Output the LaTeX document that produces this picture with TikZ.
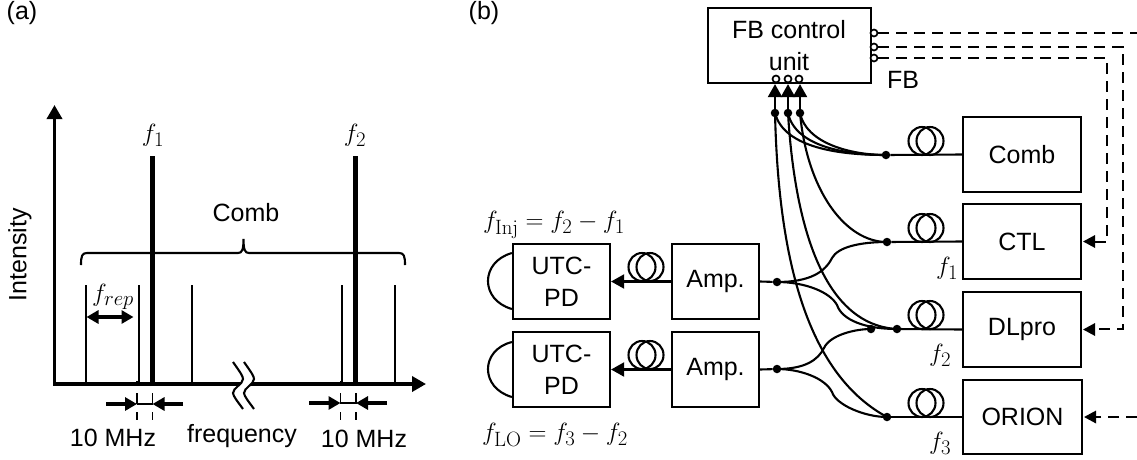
\documentclass[tikz,border=0pt]{standalone}
\usepackage[no-math]{fontspec}
\setmainfont{Liberation Sans}
\usetikzlibrary{arrows.meta,positioning,calc}
\tikzset{
  txt/.style={inner sep=0pt,font=\fontsize{25}{28}\selectfont},
  mth/.style={inner sep=0pt,font=\fontsize{28}{30}\selectfont},
  box/.style={draw,line width=2.2pt,inner sep=0pt,font=\fontsize{25}{28}\selectfont,align=center},
  dotn/.style={circle,fill=black,inner sep=0pt,minimum size=8.5pt},
  port/.style={circle,draw,fill=white,line width=1.7pt,inner sep=0pt,minimum size=7pt},
  wire/.style={line width=2.1pt},
  fb/.style={line width=2.1pt,dash pattern=on 11pt off 7pt},
  tipA/.style={-{Triangle[length=13pt,width=14pt]}},
  axisline/.style={line width=3.6pt,-{Triangle[length=14pt,width=15pt]}},
  dbl/.style={line width=3.2pt,{Triangle[length=12pt,width=13pt]}-{Triangle[length=12pt,width=13pt]}},
  inarrow/.style={line width=3.2pt,-{Triangle[length=12pt,width=13pt]}},
  thinline/.style={line width=2.1pt},
  thick line/.style={line width=5pt},
  guide/.style={line width=1.7pt,dash pattern=on 11pt off 8pt,dash phase=7pt},
  loopc/.style={line width=2.1pt}
}
\newcommand{\fiberloop}[2]{%
  \draw[loopc] (#1-4,#2-14) ellipse [x radius=13.5,y radius=14];
  \draw[loopc] (#1+4,#2-14) ellipse [x radius=13.5,y radius=14];}
\begin{document}
\begin{tikzpicture}[x=1pt,y=-1pt]
\useasboundingbox (0,0) rectangle (1137,459);
% panel labels
\node[txt] (la) at (22,13) {(a)};
\node[txt] (lb) at (484,13) {(b)};
% ---- panel a
\coordinate (o) at (54.5,384);
\coordinate (ytop) at (54.5,105);
\coordinate (xend) at (426,384);
\foreach \n/\x in {s1/86,s2/139,s3/192,s4/342,s5/395}{
  \coordinate (\n b) at (\x,384); \coordinate (\n t) at (\x,285);
  \draw[thinline] (\n b) -- (\n t);}
\foreach \n/\x in {k1/152.7,k2/355}{
  \coordinate (\n b) at (\x,386); \coordinate (\n t) at (\x,156);
  \draw[thick line] (\n b) -- (\n t);}
\draw[axisline] (o) -- (xend);
\draw[axisline] ($(o)+(0,1.7)$) -- (ytop);
% break
\fill[white] (233,362) .. controls (240,372) and (243,376) .. (243,379) .. controls (243,384) and (233,388) .. (233,393) .. controls (233,396) and (238,402) .. (243,409) -- (254,409)
  .. controls (249,402) and (244,396) .. (244,393) .. controls (244,388) and (254,384) .. (254,379) .. controls (254,376) and (251,372) .. (244,362) -- cycle;
\draw[wire] (233,362) .. controls (240,372) and (243,376) .. (243,379) .. controls (243,384) and (233,388) .. (233,393) .. controls (233,396) and (238,402) .. (243,409);
\draw[wire] (244,362) .. controls (251,372) and (254,376) .. (254,379) .. controls (254,384) and (244,388) .. (244,393) .. controls (244,396) and (249,402) .. (254,409);
% brace
\coordinate (brL) at (81,265); \coordinate (brR) at (405,265); \coordinate (brT) at (243.5,239);
\draw[wire] (brL) .. controls (81,256) and (82,253) .. (87,253) -- (238,253)
  .. controls (242,253) and (243.5,250) .. (brT)
  .. controls (243.5,250) and (245,253) .. (249,253) -- (399,253)
  .. controls (404,253) and (405,256) .. (brR);
\node[txt] (comblab) at (246,213) {Comb};
\node[mth] (f1top) at (153,135) {$f_1$};
\node[mth] (f2top) at (355,135) {$f_2$};
\node[txt,rotate=90] (int) at (20,255) {Intensity};
\node[mth] (frep) at (113,297) {$f_{rep}$};
\coordinate (ra) at (86.5,317); \coordinate (rb) at (133.5,317);
\draw[dbl] (ra) -- (rb);
% 10 MHz markers
\foreach \n/\x in {g1/137,g2/152.5,g3/340.5,g4/356}{
  \coordinate (\n t) at (\x,381); \coordinate (\n b) at (\x,420);
  \draw[guide] (\n t) -- (\n b);}
\coordinate (m1a) at (106,404); \coordinate (m1b) at (137,404);
\coordinate (m1c) at (183,404); \coordinate (m1d) at (152.5,404);
\coordinate (m2a) at (309,403); \coordinate (m2b) at (340.5,403);
\coordinate (m2c) at (387,403); \coordinate (m2d) at (356,403);
\draw[thinline] (m1b) -- (m1d);
\draw[thinline] (m2b) -- (m2d);
\draw[inarrow] (m1a) -- (m1b);
\draw[inarrow] (m1c) -- (m1d);
\draw[inarrow] (m2a) -- (m2b);
\draw[inarrow] (m2c) -- (m2d);
\node[txt] (mhz1) at (113,438) {10 MHz};
\node[txt] (freq) at (242,436) {frequency};
\node[txt] (mhz2) at (364,439) {10 MHz};
% ---- panel b boxes
\node[box,minimum width=163pt,minimum height=75pt] (fbu) at (789.5,45.5) {};
\node[txt] (fbt1) at (789,30) {FB control};
\node[txt] (fbt2) at (789,62) {unit};
\node[box,minimum width=118pt,minimum height=75pt] (comb) at (1022,154.5) {Comb};
\node[box,minimum width=118pt,minimum height=75pt] (ctl) at (1022,241.5) {CTL};
\node[box,minimum width=118pt,minimum height=75pt] (dlp) at (1022,329.5) {DLpro};
\node[box,minimum width=119pt,minimum height=74pt] (ori) at (1022.5,417) {ORION};
\node[box,minimum width=97pt,minimum height=75pt] (u1) at (561.5,281.5) {UTC-\\[4pt]PD};
\node[box,minimum width=97pt,minimum height=75pt] (u2) at (561.5,369.5) {UTC-\\[4pt]PD};
\node[box,minimum width=87pt,minimum height=75pt] (a1) at (715.5,281.5) {Amp.};
\node[box,minimum width=87pt,minimum height=75pt] (a2) at (715.5,369.5) {Amp.};
% ports
\node[port] (pr1) at (874,33) {};
\node[port] (pr2) at (874,47) {};
\node[port] (pr3) at (874,58) {};
\node[port] (pb1) at (776,79) {};
\node[port] (pb2) at (788,79) {};
\node[port] (pb3) at (799,79) {};
% dots
\node[dotn] (d1) at (775,113) {};
\node[dotn] (d2) at (788,113) {};
\node[dotn] (d3) at (800,113) {};
\node[dotn] (dc) at (886,155) {};
\node[dotn] (dt) at (887,242) {};
\node[dotn] (dd) at (897,329) {};
\node[dotn] (de) at (871,329) {};
\node[dotn] (dr) at (887,417) {};
\node[dotn] (da1) at (777,282) {};
\node[dotn] (da2) at (777,369) {};
% straight wires
\draw[wire] (dc) -- (comb.west);
\draw[wire] (dt) -- (ctl.west);
\draw[wire] (dd.center) -- (dlp.west);
\draw[wire] (dr) -- (ori.west);
\draw[wire] (a1.east) -- (da1);
\draw[wire] (a2.east) -- (da2);
\draw[wire,tipA] (a1.west) -- (u1.east);
\draw[wire,tipA] (a2.west) -- (u2.east);
\draw[wire,tipA] (d1.center) -- (d1.center |- fbu.south);
\draw[wire,tipA] (d2.center) -- (d2.center |- fbu.south);
\draw[wire,tipA] (d3.center) -- (d3.center |- fbu.south);
% loops
\fiberloop{926}{155}
\fiberloop{926}{242}
\fiberloop{926}{329}
\fiberloop{926}{417}
\fiberloop{646}{281}
\fiberloop{646}{369}
% curves from comb
\draw[wire] (dc.center) .. controls (840,155) and (784,148) .. (d1.center);
\draw[wire] (dc.center) .. controls (845,155) and (795,146) .. (d2.center);
\draw[wire] (dc.center) .. controls (850,155) and (806,143) .. (d3.center);
% long curves
\draw[wire] (d1.center) .. controls (778,240) and (800,370) .. (dr.center);
\draw[wire] (d2.center) .. controls (795,230) and (825,325) .. (dd.center);
\draw[wire] (d3.center) .. controls (807,190) and (845,242) .. (dt.center);
% amp S-curves
\draw[wire] (da1.center) .. controls (810,282) and (825,272) .. (832,258) .. controls (838,247) and (860,242) .. (dt.center);
\draw[wire] (da1.center) .. controls (805,282) and (830,292) .. (837,305) .. controls (842,320) and (865,329) .. (dd.center);
\draw[wire] (da2.center) .. controls (805,369) and (818,360) .. (824,348) .. controls (830,335) and (855,329) .. (de.center);
\draw[wire] (da2.center) .. controls (800,369) and (825,378) .. (832,392) .. controls (836,405) and (865,417) .. (dr.center);
% UTC arcs
\draw[wire] (u1.west |- 0,253) .. controls (480,262) and (480,300) .. (u1.west |- 0,309);
\draw[wire] (u2.west |- 0,342) .. controls (480,350) and (480,388) .. (u2.west |- 0,397);
% feedback
\draw[fb] (pr1) -- (1137,33);
\draw[fb] (pr2) -- (1123,47) -- (1123,329) -- (1094,329);
\draw[fb] (pr3) -- (1107,58) -- (1107,242) -- (1094,242);
\draw[fb] (1137,417) -- (1095,417);
\coordinate (tc) at (ctl.east); \coordinate (td) at (dlp.east); \coordinate (te) at (ori.east);
\fill (tc) ++(1,0) -- ++(12,-6.5) -- ++(0,13) -- cycle;
\fill (td) ++(1,0) -- ++(12,-6.5) -- ++(0,13) -- cycle;
\fill (te) ++(1,0) -- ++(12,-6.5) -- ++(0,13) -- cycle;
% labels
\node[txt] (fbl) at (903,80) {FB};
\node[mth] (lf1) at (947,268) {$f_1$};
\node[mth] (lf2) at (940,355) {$f_2$};
\node[mth] (lf3) at (940,443) {$f_3$};
\node[mth] (finj) at (554,225) {$f_{\mathrm{Inj}}=f_2-f_1$};
\node[mth] (flo) at (555,435) {$f_{\mathrm{LO}}=f_3-f_2$};
\end{tikzpicture}
\end{document}
